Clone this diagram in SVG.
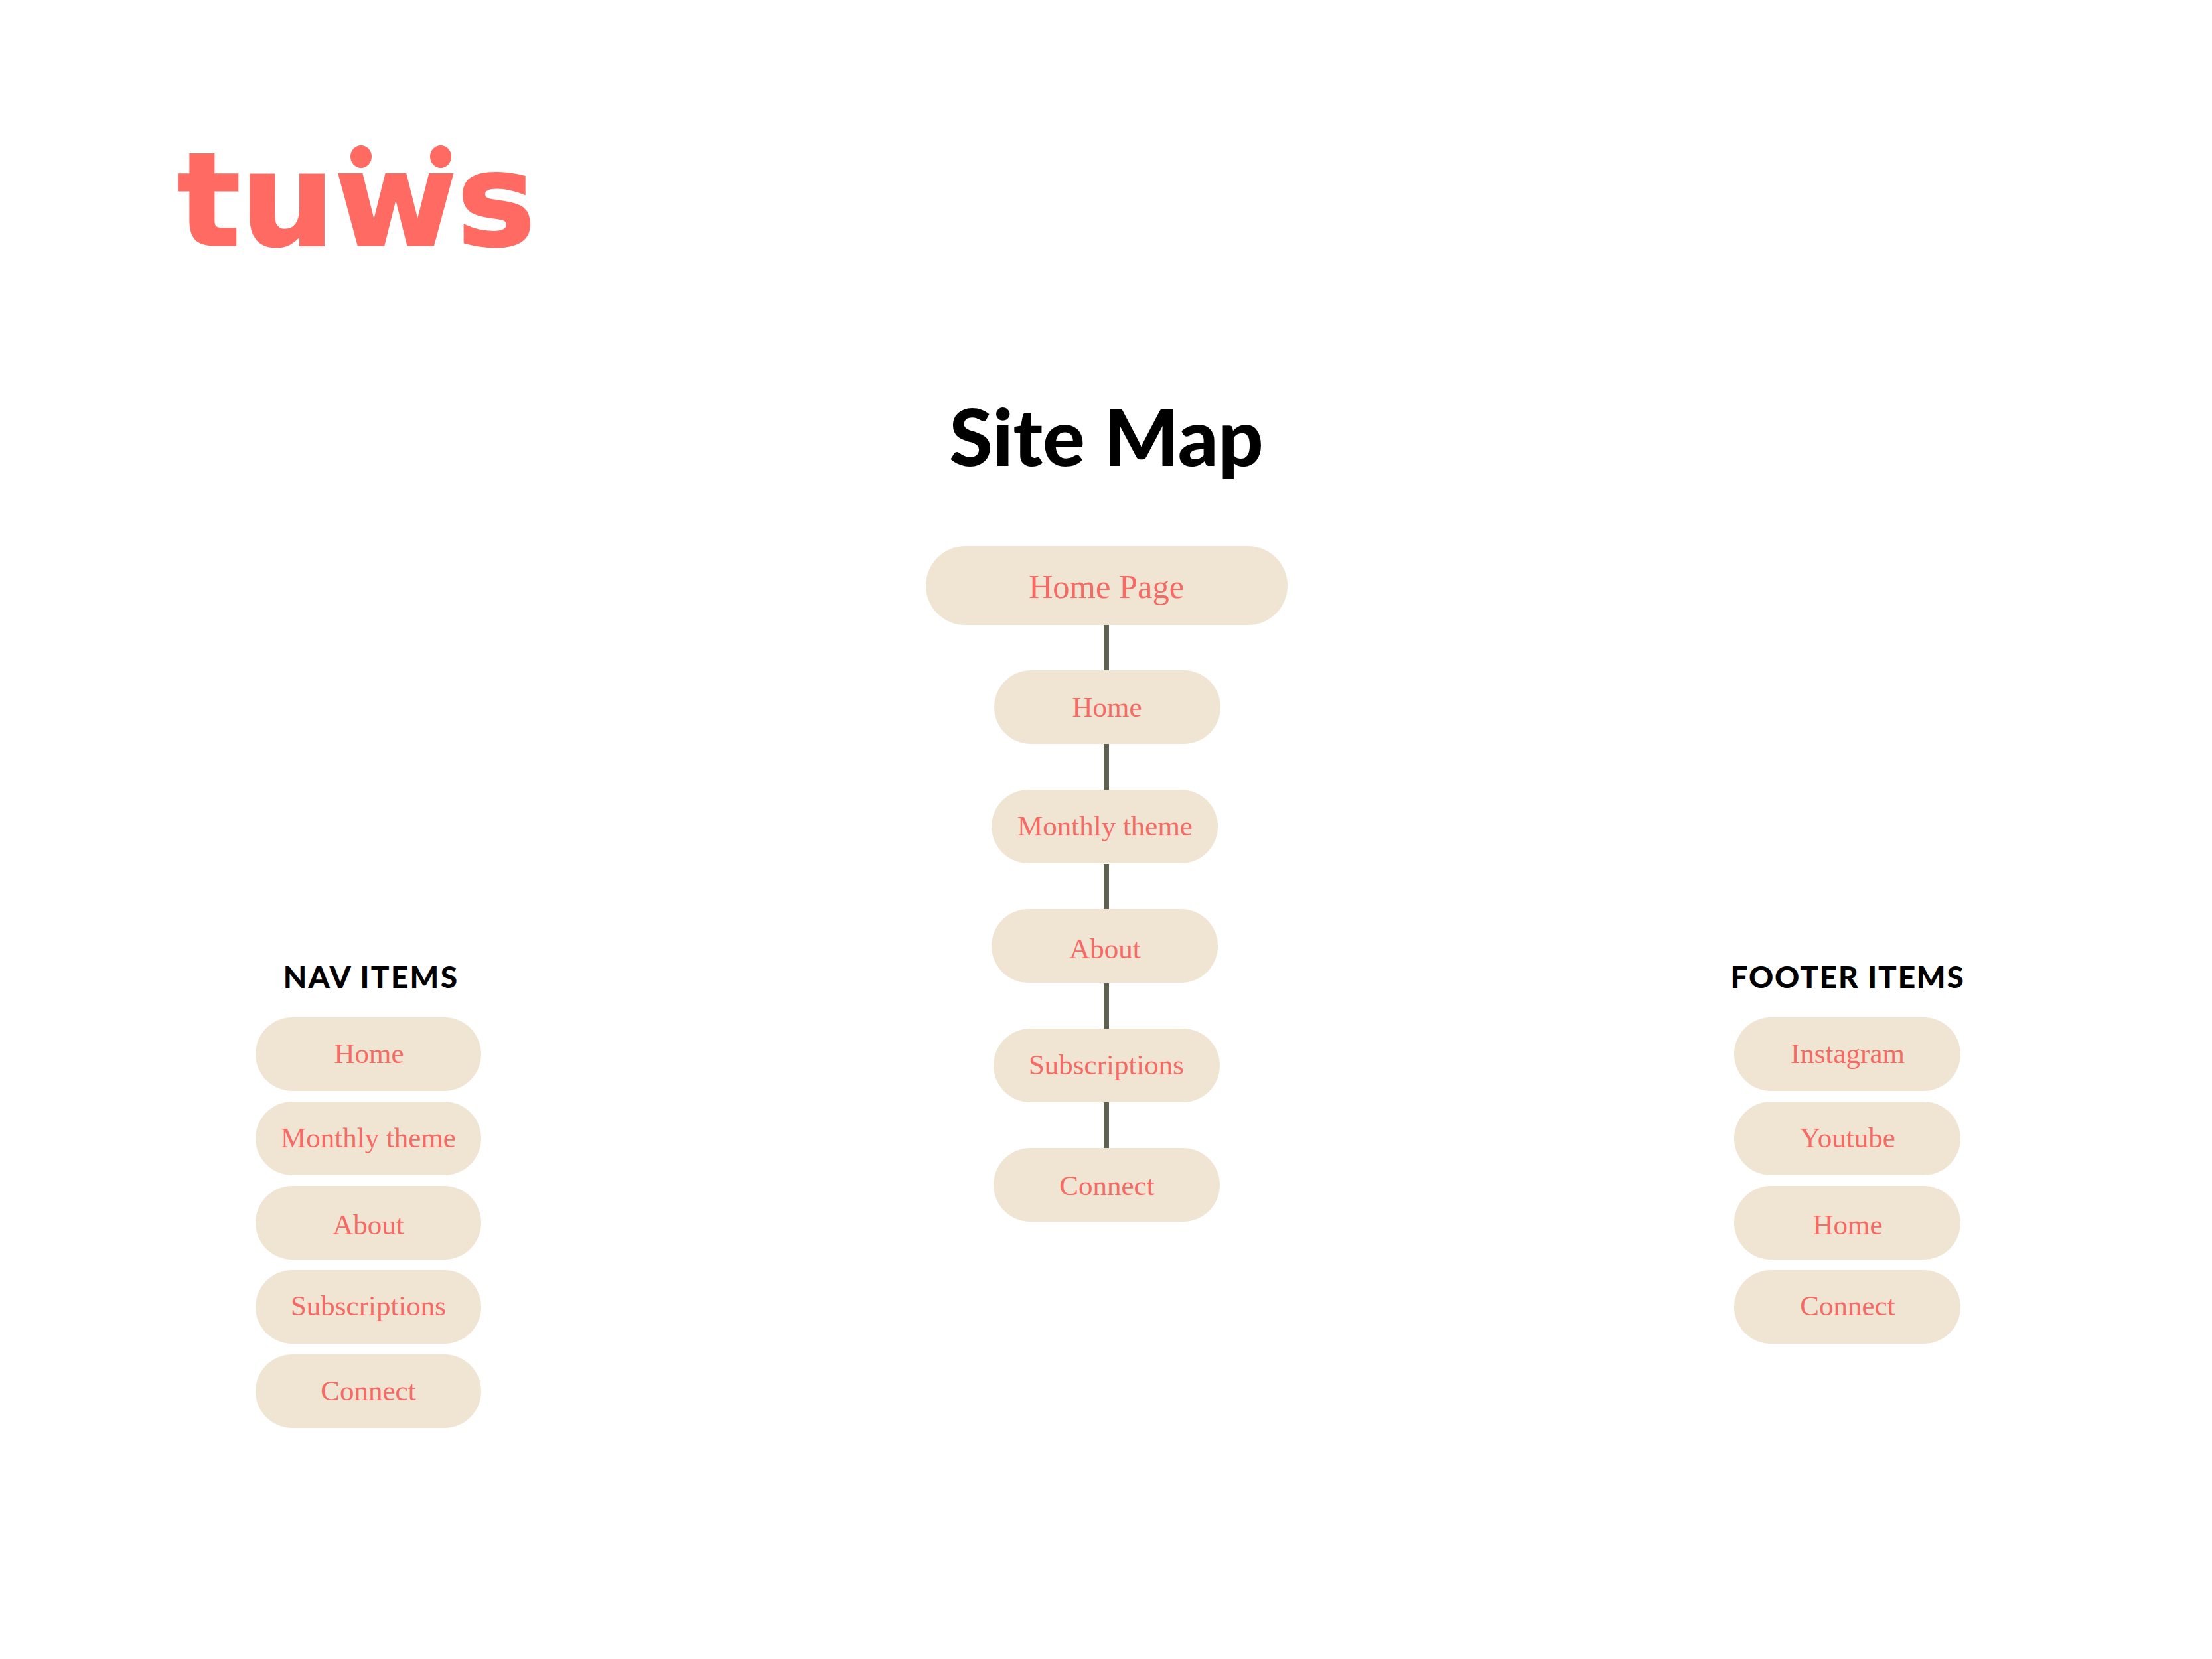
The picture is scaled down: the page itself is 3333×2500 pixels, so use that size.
<svg xmlns="http://www.w3.org/2000/svg" width="3333" height="2500" viewBox="0 0 3333 2500">
<style>
.p{fill:#f0e5d3}
.t{font-family:"Liberation Serif",serif;font-size:43px;fill:#f56a64;text-anchor:middle}
.h{font-family:Lato,"Liberation Sans",sans-serif;font-weight:900;fill:#000;text-anchor:middle}
.c{stroke:#5f6150;stroke-width:8;fill:none}
</style>
<rect width="3333" height="2500" fill="#fff"/>
<g id="logo" fill="#ff6b63">
<text x="267" y="369" font-family="DejaVu Sans, sans-serif" font-weight="700" font-size="194" stroke="#ff6b63" stroke-width="3" textLength="540" lengthAdjust="spacingAndGlyphs">tuws</text>
<ellipse cx="544" cy="236" rx="16" ry="17"/>
<ellipse cx="664" cy="236" rx="16" ry="17"/>
</g>
<text id="title" class="h" x="1667" y="702" font-size="119">Site Map</text>
<g id="connectors">
<line class="c" x1="1667" y1="942" x2="1667" y2="1010"/>
<line class="c" x1="1667" y1="1121" x2="1667" y2="1191"/>
<line class="c" x1="1667" y1="1302" x2="1667" y2="1371"/>
<line class="c" x1="1667" y1="1482" x2="1667" y2="1551"/>
<line class="c" x1="1667" y1="1661" x2="1667" y2="1730"/>
</g>
<g id="home-page"><rect class="p" x="1395" y="823" width="545" height="119" rx="59.5"/><text class="t" x="1667" y="901" style="font-size:50.5px">Home Page</text></g>
<g id="main-home"><rect class="p" x="1498" y="1010" width="341" height="111" rx="55.5"/><text class="t" x="1668" y="1080">Home</text></g>
<g id="main-monthly"><rect class="p" x="1494" y="1190" width="341" height="111" rx="55.5"/><text class="t" x="1665" y="1259">Monthly theme</text></g>
<g id="main-about"><rect class="p" x="1494" y="1370" width="341" height="111" rx="55.5"/><text class="t" x="1665" y="1444">About</text></g>
<g id="main-subscriptions"><rect class="p" x="1497" y="1550" width="341" height="111" rx="55.5"/><text class="t" x="1667" y="1619">Subscriptions</text></g>
<g id="main-connect"><rect class="p" x="1497" y="1730" width="341" height="111" rx="55.5"/><text class="t" x="1668" y="1801">Connect</text></g>
<text id="nav-title" class="h" x="559" y="1489" font-size="46" letter-spacing="2.3">NAV ITEMS</text>
<g id="nav-home"><rect class="p" x="385" y="1533" width="340" height="111" rx="55.5"/><text class="t" x="556" y="1602">Home</text></g>
<g id="nav-monthly"><rect class="p" x="385" y="1660" width="340" height="111" rx="55.5"/><text class="t" x="555" y="1729">Monthly theme</text></g>
<g id="nav-about"><rect class="p" x="385" y="1787" width="340" height="111" rx="55.5"/><text class="t" x="555" y="1860">About</text></g>
<g id="nav-subscriptions"><rect class="p" x="385" y="1914" width="340" height="111" rx="55.5"/><text class="t" x="555" y="1982">Subscriptions</text></g>
<g id="nav-connect"><rect class="p" x="385" y="2041" width="340" height="111" rx="55.5"/><text class="t" x="555" y="2110">Connect</text></g>
<text id="footer-title" class="h" x="2784" y="1489" font-size="46" letter-spacing="1.8">FOOTER ITEMS</text>
<g id="footer-instagram"><rect class="p" x="2613" y="1533" width="341" height="111" rx="55.5"/><text class="t" x="2784" y="1602">Instagram</text></g>
<g id="footer-youtube"><rect class="p" x="2613" y="1660" width="341" height="111" rx="55.5"/><text class="t" x="2784" y="1729">Youtube</text></g>
<g id="footer-home"><rect class="p" x="2613" y="1787" width="341" height="111" rx="55.5"/><text class="t" x="2784" y="1860">Home</text></g>
<g id="footer-connect"><rect class="p" x="2613" y="1914" width="341" height="111" rx="55.5"/><text class="t" x="2784" y="1982">Connect</text></g>
</svg>
